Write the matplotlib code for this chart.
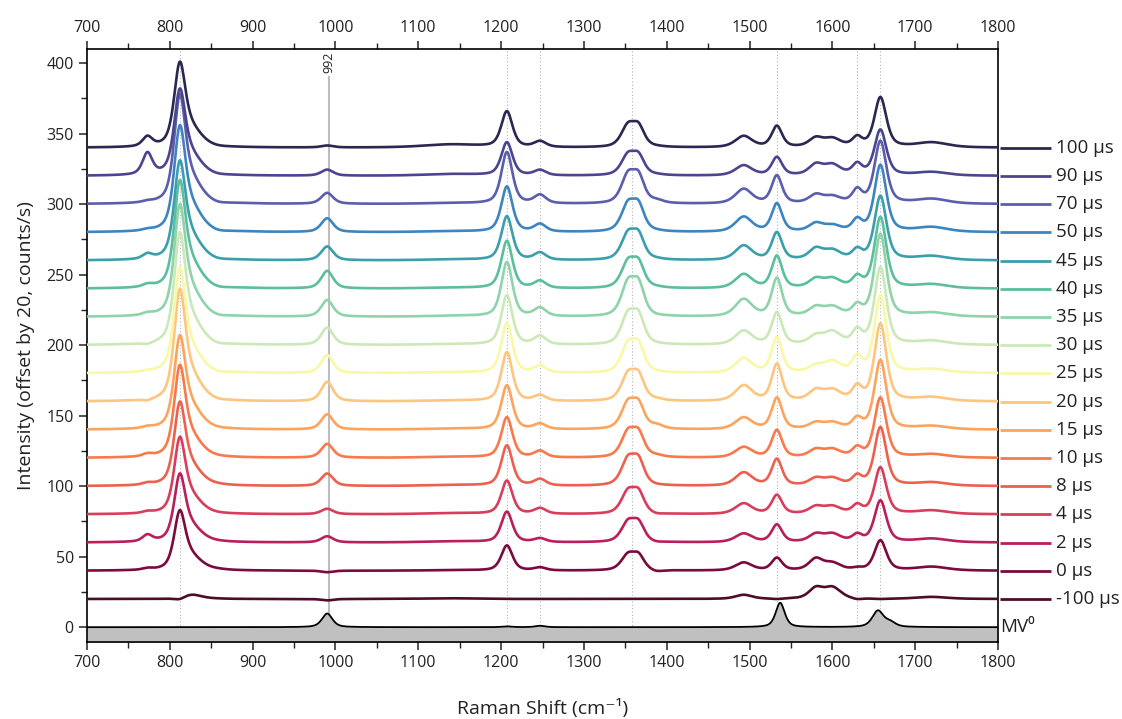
import numpy as np
import matplotlib
matplotlib.use("Agg")
import matplotlib.pyplot as plt
from matplotlib.transforms import blended_transform_factory
from matplotlib.ticker import MultipleLocator

plt.rcParams['font.family'] = ['Open Sans', 'DejaVu Sans']

# ---------------- data ----------------
labels = ['100 μs', '90 μs', '70 μs', '50 μs', '45 μs', '40 μs', '35 μs', '30 μs',
          '25 μs', '20 μs', '15 μs', '10 μs', '8 μs', '4 μs', '2 μs', '0 μs', '-100 μs']
offsets = [340, 320, 300, 280, 260, 240, 220, 200, 180, 160, 140, 120, 100, 80, 60, 40, 20]
colors = ['#2a2850', '#4b4590', '#5a5eac', '#3d85c0', '#3a9fac', '#5bbf9c', '#8fd3ab',
          '#cbe9b6', '#f8f8a6', '#fec57e', '#fca45e', '#f8794c', '#ed6050', '#d83e5b',
          '#b81f5b', '#7c0a3e', '#4f0b2a']

# band positions (cm-1) and widths (FWHM, cm-1)
band_centers = [773, 812, 826, 858, 990, 1140, 1207, 1247, 1353, 1366, 1388,
                1493, 1533, 1580, 1600, 1630, 1658, 1720]
band_widths = [14, 16, 30, 24, 17, 80, 16, 17, 19, 17, 18,
               24, 15, 20, 24, 14, 17, 45]

# peak heights above each trace's offset (counts/s)
amp_775 = [8.6, 17, 3, 3, 5.5, 4, 3.7, 1, 2.7, 1, 3, 3.6, 3, 2.7, 6, 2.3, 0]
amp_812 = [61, 62, 78, 76, 71, 77, 80, 80, 75, 80, 67, 66, 60, 55, 49, 43, 0]
amp_826 = [22, 23, 28, 28, 26, 28, 29, 29, 27, 29, 25, 24, 22, 20, 18, 16, 3]
amp_858 = [2, 2, 2, 2, 2, 2, 2, 2, 2, 2.5, 2.5, 2.5, 2.5, 2, 2, 2, 0.5]
amp_990 = [1.6, 4.5, 8, 10, 10, 12.7, 12, 12.5, 13, 14, 11, 10, 9, 4, 4.5, -1, -1]
amp_1140 = [2.5, 1.5, 1, 1, 1, 1, 1, 1, 1, 1, 1, 1, 1, 1, 1, 0.5, 0.5]
amp_1207 = [26, 24, 37, 32.6, 31.5, 34, 39, 35.5, 35.6, 35, 31.6, 29, 29, 24, 22, 18, 0]
amp_1247 = [5, 4.5, 7, 6.3, 6, 6, 7, 7, 6, 5, 4.7, 5.4, 5.4, 4.7, 3.3, 2.6, 0]
amp_1358 = [18, 17, 23.6, 22.8, 21.6, 21.7, 27.5, 24.8, 23.5, 22, 21.7, 21, 22, 18.5, 16.6, 13, 0]
amp_1388 = [2, 2, 4, 2.5, 2.5, 2.5, 2.5, 2.5, 2.5, 3, 4.5, 3, 2, 1, 1, 0, 0]
amp_1493 = [8.5, 7.7, 11, 11.3, 10.9, 10.6, 13, 10.6, 11, 11.8, 9, 8, 10, 8, 6.6, 6, 3]
amp_1533 = [15.7, 13.6, 20.6, 20.8, 20.3, 23.6, 28, 23.6, 26, 27, 23, 20, 19.6, 14, 13, 9.4, 0]
amp_1580 = [8, 9.4, 7.6, 7.3, 9.7, 8.3, 8.3, 8.3, 7, 9.5, 6, 7, 6.6, 6.5, 7, 9.4, 9]
amp_1600 = [7.5, 9, 6.5, 6, 8.5, 8.3, 8.3, 10.6, 9.5, 9.5, 6, 7, 6.6, 6.5, 7, 6.5, 9]
amp_1630 = [9, 10, 12, 10.9, 9.7, 10.6, 10.6, 13, 14, 13, 10, 9, 9, 8, 7, 3, 0]
amp_1658 = [36, 33, 45, 48, 46, 51, 59, 55.5, 55.5, 55.5, 49.6, 43, 42, 33.5, 30, 21.7, 0]
amp_1720 = [4, 3, 4, 4, 3.5, 3.5, 3.5, 3.5, 3.5, 3.5, 3, 3, 3, 3, 3, 3, 1.5]

# neutral MV0 reference spectrum (bottom, filled)
mv0_centers = [990, 1207, 1247, 1537, 1655, 1670]
mv0_widths = [15, 14, 14, 13, 16, 15]
mv0_heights = [9.7, 0.6, 1.0, 17.3, 12.0, 5.0]

marker_lines = [812, 1207, 1247, 1358, 1533, 1630, 1658]
line_992 = 992

# ------------------------------------------------------------------------
x = np.arange(700, 1800.01, 0.5)


def band(xv, c, w, eta=0.55):
    d = (np.asarray(xv) - c) / (w / 2.0)
    return eta / (1 + d ** 2) + (1 - eta) * np.exp(-np.log(2) * d ** 2)


def spectrum(centers, widths, heights):
    centers = np.asarray(centers, float)
    widths = np.asarray(widths, float)
    M = np.array([[band(ci, cj, wj) for cj, wj in zip(centers, widths)] for ci in centers])
    a = np.linalg.solve(M, np.asarray(heights, float))
    y = np.zeros_like(x)
    for aj, cj, wj in zip(a, centers, widths):
        y += aj * band(x, cj, wj)
    return y


amp_table = [amp_775, amp_812, amp_826, amp_858, amp_990, amp_1140, amp_1207, amp_1247,
             amp_1358, amp_1358, amp_1388, amp_1493, amp_1533, amp_1580, amp_1600,
             amp_1630, amp_1658, amp_1720]

fig = plt.figure(figsize=(11.22, 7.19), dpi=100)
ax = fig.add_axes([87 / 1122, 1 - 642 / 719, (998 - 87) / 1122, (642 - 49) / 719])

ymin, ymax = -10.5, 410

for xc in marker_lines:
    ax.axvline(xc, color='#b5b5b5', lw=0.8, ls=(0, (1, 2)), zorder=0)
ax.plot([line_992, line_992], [0, 390], color='#bdbdbd', lw=1.5, zorder=0.5)
ax.text(line_992, 408, str(line_992), rotation=90, ha='center', va='top',
        fontsize=9, color='#222222')

# MV0 filled spectrum
y_mv0 = spectrum(mv0_centers, mv0_widths, mv0_heights)
ax.fill_between(x, ymin - 2, y_mv0, color='#c0c0c0', zorder=1, lw=0)
ax.plot(x, y_mv0, color='black', lw=1.3, zorder=2)

tr = blended_transform_factory(ax.transAxes, ax.transData)
n = len(labels)
for i in range(n):
    heights = [tbl[i] for tbl in amp_table]
    y = offsets[i] + spectrum(band_centers, band_widths, heights)
    ax.plot(x, y, color=colors[i], lw=1.9, zorder=3 + (n - i) * 0.01)
    ax.plot([1.002, 1.058], [offsets[i], offsets[i]], color=colors[i], lw=2.0,
            transform=tr, clip_on=False, solid_capstyle='butt')
    ax.text(1.064, offsets[i], labels[i], transform=tr, ha='left', va='center',
            fontsize=13.5, color='#222222')

ax.text(1.002, 0, 'MV⁰', transform=tr, ha='left', va='center', fontsize=13.5,
        color='#222222')

ax.set_xlim(700, 1800)
ax.set_ylim(ymin, ymax)
ax.xaxis.set_major_locator(MultipleLocator(100))
ax.xaxis.set_minor_locator(MultipleLocator(50))
ax.yaxis.set_minor_locator(MultipleLocator(25))
ax.set_yticks(np.arange(0, 401, 50))
ax.tick_params(axis='x', which='both', direction='out', top=True, labeltop=True,
               bottom=True, labelbottom=True, labelsize=11.5, colors='#222222')
ax.tick_params(axis='y', which='both', direction='out', left=True, right=False,
               labelsize=11.5, colors='#222222')
ax.tick_params(which='major', length=6, width=1.1)
ax.tick_params(which='minor', length=4, width=1.0)
for s in ax.spines.values():
    s.set_linewidth(1.2)

ax.set_xlabel('Raman Shift (cm⁻¹)', fontsize=14, labelpad=20, color='#222222')
ax.set_ylabel('Intensity (offset by 20, counts/s)', fontsize=14, labelpad=8,
              color='#222222')

fig.savefig('out.png', dpi=100)
